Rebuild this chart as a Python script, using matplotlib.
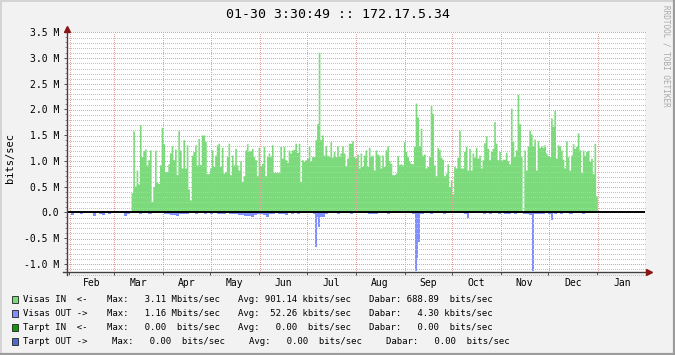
import datetime as dt
import numpy as np
import matplotlib
matplotlib.use("Agg")
import matplotlib.pyplot as plt
import matplotlib.dates as mdates
from matplotlib.patches import Rectangle
from matplotlib.lines import Line2D
from matplotlib.transforms import IdentityTransform
from matplotlib.ticker import MultipleLocator, FuncFormatter, FixedLocator, NullFormatter

plt.rcParams['font.family'] = ['DejaVu Sans Mono', 'DejaVu Sans']

# ---------------- data (Mbits/sec) ----------------
title = "01-30 3:30:49 :: 172.17.5.34"
month_names = ["Feb", "Mar", "Apr", "May", "Jun", "Jul", "Aug", "Sep", "Oct", "Nov", "Dec", "Jan"]

in_start = dt.datetime(2014, 3, 12)
in_end = dt.datetime(2015, 1, 1)
visas_in = [
    0.38, 1.58, 0.51, 0.82, 0.55, 1.70, 1.08, 1.20, 1.23, 0.92,
    1.02, 1.21, 0.21, 0.50, 1.21, 0.58, 0.56, 0.92, 1.65, 1.33,
    0.79, 0.79, 0.94, 1.15, 1.29, 1.02, 1.23, 0.73, 1.59, 1.21,
    0.86, 1.41, 0.86, 1.31, 0.45, 0.24, 1.11, 1.18, 1.31, 0.92,
    1.43, 0.93, 1.50, 1.50, 1.37, 0.75, 0.75, 0.86, 1.21, 0.89,
    1.11, 1.31, 1.34, 0.89, 1.26, 0.76, 0.79, 1.08, 1.34, 0.73,
    1.11, 0.92, 1.24, 0.92, 0.82, 1.00, 0.60, 0.71, 1.21, 1.33,
    1.18, 1.20, 1.24, 1.08, 1.02, 0.71, 1.26, 0.89, 0.95, 1.28,
    0.71, 1.08, 1.15, 1.08, 1.31, 0.77, 0.77, 0.77, 0.77, 1.28,
    1.05, 1.28, 1.02, 0.97, 1.21, 1.15, 1.21, 1.22, 1.34, 1.16,
    # Jul - Oct
    1.34, 0.60, 1.02, 0.99, 1.02, 1.05, 1.29, 0.99, 1.08, 1.08,
    1.41, 1.72, 3.11, 1.41, 1.50, 1.11, 1.29, 1.11, 1.08, 1.37,
    1.07, 1.18, 1.08, 1.29, 1.08, 1.15, 1.29, 1.15, 0.90, 1.05,
    1.34, 1.34, 1.39, 1.08, 1.05, 1.13, 0.86, 1.15, 0.89, 1.11,
    1.21, 0.89, 1.26, 1.08, 1.11, 0.82, 1.21, 1.13, 1.11, 0.86,
    1.11, 0.89, 1.21, 1.29, 1.00, 0.95, 0.73, 0.73, 0.76, 1.10,
    0.93, 0.94, 0.92, 1.37, 1.18, 1.08, 0.99, 0.95, 0.94, 1.28,
    2.12, 1.85, 1.29, 1.63, 1.11, 1.13, 0.86, 0.89, 1.08, 2.07,
    1.92, 0.92, 0.71, 1.26, 1.22, 1.07, 1.03, 0.71, 0.76, 0.94,
    0.50, 0.63, 0.36, 0.89, 0.86, 1.07, 1.59, 0.86, 0.86, 1.18,
    1.28, 0.82,
    # Oct - Dec
    1.24, 0.82, 1.15, 1.07, 1.26, 1.05, 1.11, 0.86, 1.02, 1.35,
    1.48, 1.24, 1.02, 1.18, 1.24, 1.76, 1.34, 1.02, 1.18, 1.00,
    1.03, 1.03, 1.16, 1.00, 0.94, 2.02, 1.37, 1.08, 1.21, 2.29,
    1.72, 1.08, 0.00, 1.21, 0.82, 1.29, 1.59, 1.52, 1.29, 1.42,
    0.82, 1.39, 1.26, 1.29, 1.26, 1.31, 1.15, 1.10, 1.08, 1.83,
    1.67, 1.98, 1.05, 1.31, 1.29, 1.21, 1.03, 0.86, 1.39, 1.08,
    0.82, 1.11, 1.33, 1.24, 1.28, 1.54, 1.21, 0.77, 1.21, 1.11,
    1.18, 1.20, 0.99, 1.05, 0.75, 1.34, 0.32,
]

# outgoing traffic: low background level (about two days per value) ...
out_start = dt.datetime(2014, 1, 31, 2)
out_end = dt.datetime(2015, 1, 1)
visas_out = [
    # Feb
    -0.01, -0.05, -0.02, -0.02, -0.04, -0.01, -0.02, -0.015, -0.07, -0.02, -0.04, -0.05, -0.01, -0.03, -0.01,
    # Mar
    -0.01, -0.01, -0.02, -0.07, -0.03, -0.01, -0.02, -0.02, -0.03, -0.02, -0.02, -0.03, -0.02, -0.01, -0.02, -0.02,
    # Apr
    -0.03, -0.04, -0.06, -0.05, -0.07, -0.04, -0.03, -0.03, -0.02, -0.02, -0.03, -0.02, -0.02, -0.03, -0.02,
    # May
    -0.03, -0.02, -0.03, -0.04, -0.03, -0.02, -0.03, -0.03, -0.04, -0.06, -0.05, -0.07, -0.08, -0.09, -0.06, -0.04,
    # Jun
    -0.03, -0.05, -0.09, -0.04, -0.03, -0.02, -0.03, -0.03, -0.06, -0.02, -0.03, -0.02, -0.03, -0.02, -0.02,
    # Jul
    -0.02, -0.02, -0.03, -0.10, -0.10, -0.10, -0.03, -0.02, -0.02, -0.02, -0.03, -0.02, -0.02, -0.02, -0.03, -0.02,
    # Aug
    -0.02, -0.01, -0.02, -0.02, -0.03, -0.04, -0.03, -0.02, -0.02, -0.01, -0.03, -0.02, -0.02, -0.02, -0.01, -0.02,
    # Sep
    -0.02, -0.02, -0.03, -0.04, -0.04, -0.04, -0.02, -0.02, -0.04, -0.02, -0.02, -0.02, -0.03, -0.01, -0.02, -0.01,
    # Oct
    -0.01, -0.02, -0.02, -0.03, -0.02, -0.02, -0.02, -0.02, -0.02, -0.03, -0.02, -0.03, -0.02, -0.02, -0.03,
    # Nov
    -0.02, -0.03, -0.04, -0.02, -0.03, -0.02, -0.02, -0.03, -0.04, -0.05, -0.04, -0.04, -0.03, -0.03, -0.02,
    # Dec
    -0.03, -0.02, -0.04, -0.02, -0.03, -0.02, -0.02, -0.03, -0.02, -0.02, -0.02, -0.03, -0.02, -0.02, -0.02, -0.02,
]

# ... plus daily peaks
out_peak_days = [
    dt.datetime(2014, 7, 6, 14), dt.datetime(2014, 7, 8, 14),
    dt.datetime(2014, 9, 7, 14), dt.datetime(2014, 9, 8, 14), dt.datetime(2014, 9, 9, 14),
    dt.datetime(2014, 10, 10, 14), dt.datetime(2014, 11, 20, 14), dt.datetime(2014, 12, 2, 14),
]
out_peak_vals = [-0.67, -0.28, -1.14, -0.88, -0.58, -0.12, -1.15, -0.15]

x_start = dt.datetime(2014, 1, 30, 11)
x_end = dt.datetime(2015, 1, 31, 4)
y_min, y_max = -1.16, 3.5

legend_colors = ["#7CDA7C", "#8090FF", "#0A9A0A", "#4F6BCB"]
legend_rows = [
    [("Visas IN  <-", 23.3), ("Max:   3.11 Mbits/sec", 106.7), ("Avg: 901.14 kbits/sec", 238.3), ("Dabar: 688.89  bits/sec", 369.3)],
    [("Visas OUT ->", 23.3), ("Max:   1.16 Mbits/sec", 106.7), ("Avg:  52.26 kbits/sec", 238.3), ("Dabar:   4.30 kbits/sec", 369.3)],
    [("Tarpt IN  <-", 23.3), ("Max:   0.00  bits/sec", 106.7), ("Avg:   0.00  bits/sec", 238.3), ("Dabar:   0.00  bits/sec", 369.3)],
    [("Tarpt OUT ->", 23.3), ("Max:   0.00  bits/sec", 112.3), ("Avg:   0.00  bits/sec", 249.3), ("Dabar:   0.00  bits/sec", 386.0)],
]
legend_y = [299, 313, 327, 341]

# ---------------- figure ----------------
W, H = 675, 355
fig = plt.figure(figsize=(W / 100, H / 100), dpi=100, facecolor="#F2F2F2")


def fx(x):
    return x / W


def fy(y):
    return 1 - y / H


ax = fig.add_axes([fx(67), fy(272), fx(645) - fx(67), fy(32) - fy(272)])
ax.set_facecolor("white")


def step_series(start, end, vals):
    n = len(vals)
    step = (end - start) / n
    edges = [mdates.date2num(start + i * step) for i in range(n + 1)]
    return edges, list(vals) + [vals[-1]]


xe, ye = step_series(in_start, in_end, visas_in)
ax.fill_between(xe, 0, ye, step="post", color=legend_colors[0], linewidth=0, zorder=1)
xe, ye = step_series(out_start, out_end, visas_out)
ax.fill_between(xe, 0, ye, step="post", color=legend_colors[1], linewidth=0, zorder=1)
ax.bar([mdates.date2num(d) for d in out_peak_days], out_peak_vals, width=1.25, align="edge",
       color=legend_colors[1], linewidth=0, antialiased=False, zorder=1)

ax.axhline(0, color="black", lw=1.4, zorder=4)

ax.set_xlim(mdates.date2num(x_start), mdates.date2num(x_end))
ax.set_ylim(y_min, y_max)

# month ticks / labels
month_starts = [dt.datetime(2014, m, 1) for m in range(2, 13)] + [dt.datetime(2015, 1, 1), dt.datetime(2015, 2, 1)]
month_nums = [mdates.date2num(d) for d in month_starts[:-1]]
mids = [mdates.date2num(a + (b - a) / 2) for a, b in zip(month_starts[:-1], month_starts[1:])]
ax.xaxis.set_major_locator(FixedLocator(month_nums))
ax.xaxis.set_major_formatter(NullFormatter())
ax.xaxis.set_minor_locator(FixedLocator(mids))
ax.xaxis.set_minor_formatter(FuncFormatter(lambda v, p: month_names[p] if p is not None and p < len(month_names) else ""))

ax.yaxis.set_major_locator(MultipleLocator(0.5))
ax.yaxis.set_minor_locator(MultipleLocator(0.1))
ax.yaxis.set_major_formatter(FuncFormatter(lambda v, p: "0.0" if abs(v) < 1e-9 else f"{v:.1f} M"))

ax.tick_params(axis="x", which="major", length=2.5, width=0.7, color="#505050", direction="out")
ax.tick_params(axis="x", which="minor", length=0, pad=4, labelsize=7)
ax.tick_params(axis="y", which="major", length=2.5, width=0.7, color="#505050", pad=3, labelsize=7)
ax.tick_params(axis="y", which="minor", length=1.2, width=0.6, color="#808080")

for s in ax.spines.values():
    s.set_visible(False)

# rrdtool style pixel-dotted grid, drawn over the areas
MINOR_C, MAJOR_C = "#C2C2C2", "#E6A0A0"
(px0, py0), (px1, py1) = ax.transData.transform([(ax.get_xlim()[0], y_min), (ax.get_xlim()[1], y_max)])


def dots(xs, ys, color):
    ax.add_line(Line2D(xs, ys, linestyle="none", marker="s", markersize=0.72, markeredgewidth=0,
                       color=color, transform=IdentityTransform(), zorder=2, clip_on=False))


xs_h = np.arange(np.ceil(px0) + 1.5, px1, 2)
for k in range(int(round(y_min * 10)), int(round(y_max * 10)) + 1):
    yv = k / 10
    if abs(yv) < 1e-9:
        continue
    ypix = np.floor(ax.transData.transform((0, yv))[1]) + 0.5
    dots(xs_h, np.full(xs_h.shape, ypix), MAJOR_C if k % 5 == 0 else MINOR_C)

ys_v = np.arange(np.ceil(py0) + 0.5, py1, 2)
for m in month_nums:
    xpix = np.floor(ax.transData.transform((m, 0))[0]) + 0.5
    dots(np.full(ys_v.shape, xpix), ys_v, MAJOR_C)

# axis lines with arrows
fig.add_artist(Line2D([fx(67), fx(67)], [fy(275), fy(29)], color="#404040", lw=1.0))
fig.add_artist(Line2D([fx(63), fx(648)], [fy(272), fy(272)], color="#404040", lw=1.0))
fig.add_artist(Line2D([fx(67)], [fy(29)], marker="^", markersize=4.5, color="#8B1414", lw=0))
fig.add_artist(Line2D([fx(649)], [fy(272)], marker=">", markersize=4.5, color="#8B1414", lw=0))

# texts
fig.text(0.5, fy(15), title, ha="center", va="center", fontsize=9.5)
fig.text(fx(10), fy(158), "bits/sec", rotation=90, ha="center", va="center", fontsize=7.5)
fig.text(fx(666), fy(5), "RRDTOOL / TOBI OETIKER", rotation=270, ha="center", va="top",
         fontsize=5.5, color="#A8A8A8")

for row, y, c in zip(legend_rows, legend_y, legend_colors):
    fig.add_artist(Rectangle((fx(12), fy(y + 3.5)), 6 / W, 7 / H, transform=fig.transFigure,
                             facecolor=c, edgecolor="#202020", lw=0.6))
    for s, x in row:
        fig.text(fx(x), fy(y), s, ha="left", va="center", fontsize=6.5)

# frame
fig.add_artist(Line2D([0, 1], [fy(0.5), fy(0.5)], color="#D4D4D4", lw=1.4))
fig.add_artist(Line2D([fx(0.5), fx(0.5)], [0, 1], color="#D4D4D4", lw=1.4))
fig.add_artist(Line2D([0, 1], [fy(354), fy(354)], color="#9C9C9C", lw=1.6))
fig.add_artist(Line2D([fx(674), fx(674)], [0, 1], color="#9C9C9C", lw=1.6))

fig.savefig("out.png", dpi=100, facecolor=fig.get_facecolor())
